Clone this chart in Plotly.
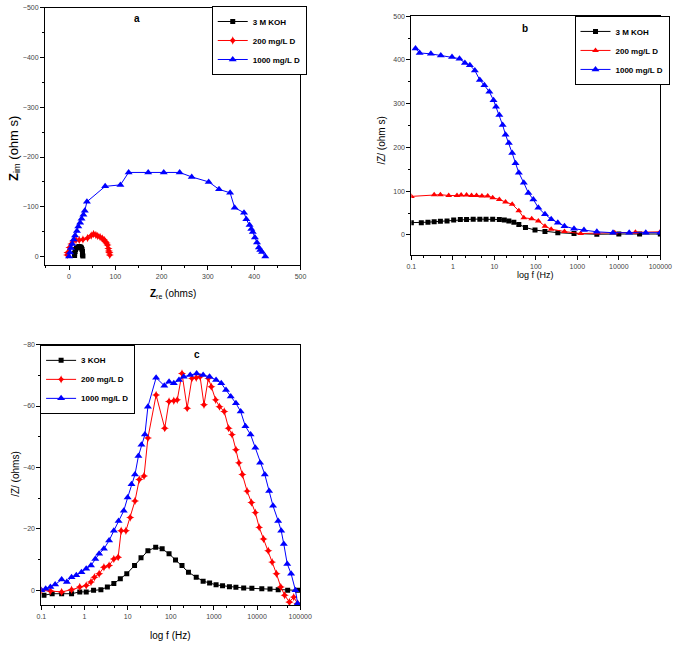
import numpy as np
import plotly.graph_objects as go

# ---------------- Panel a: Nyquist ----------------
a_koh_re = [12, 12, 13, 14, 16, 19, 22, 25, 27, 28, 29, 29, 29, 30]
a_koh_im = [-2, -6, -10, -14, -17, -19, -20, -19, -17, -14, -10, -6, -3, -1]
a_200_re = [-4, -3, 1, 5, 9, 15, 22, 30, 40, 48, 53, 58, 62, 67, 72, 76, 78, 81, 83, 85, 86, 87, 88]
a_200_im = [-3, -8, -18, -25, -31, -33, -33, -34, -37, -42, -45, -43, -41, -39, -36, -33, -30, -27, -23, -16, -11, -8, -3]
a_1000_re = [0, 2, 4, 7, 10, 13, 17, 20, 24, 27, 31, 34, 38.6, 78, 111, 128.7, 171, 204.6, 239, 265, 301.7, 324, 348, 357.8,
             378, 383, 390, 393.7, 397, 401.5, 406, 410, 413, 417, 424]
a_1000_im = [0, -8, -17, -25, -34, -42, -51, -60, -68, -76, -84, -92, -110, -141, -144, -169, -169, -169, -169, -160, -150,
             -135, -128, -98, -88, -75, -63, -55, -49, -38, -28, -18, -13, -9, 0]

# ---------------- Panel b: Bode |Z| ----------------
b_koh_logf = [-1, -0.76, -0.6, -0.45, -0.3, -0.14, 0.02, 0.18, 0.33, 0.49, 0.65, 0.8, 0.96, 1.12, 1.24, 1.35, 1.47, 1.59,
              1.75, 1.98, 2.22, 2.53, 2.92, 3.47, 4.0, 4.5, 5.0]
b_koh_z = [28, 28, 29, 30, 31, 32, 34, 35, 35, 36, 36, 36, 36, 35, 34, 32, 29, 24, 17, 11, 8, 5, 3, 1.5, 2, 2, 2]
b_200_logf = [-1, -0.45, -0.3, -0.1, 0.1, 0.2, 0.33, 0.45, 0.57, 0.7, 0.84, 0.96, 1.12, 1.27, 1.43, 1.59, 1.71, 1.9,
              2.06, 2.22, 2.37, 2.69, 3.08, 3.47, 3.9, 4.4, 5.0]
b_200_z = [88, 92, 92, 90, 90, 91, 91, 90, 90, 89, 89, 85, 81, 75, 70, 55, 39, 37, 32, 20, 13, 7.6, 3, 4, 5, 6, 7]
b_1000_logf = [-0.9, -0.8, -0.53, -0.29, -0.02, 0.16, 0.29, 0.41, 0.53, 0.65, 0.76, 0.88, 0.98, 1.04, 1.12, 1.2, 1.27,
               1.35, 1.43, 1.51, 1.59, 1.71, 1.82, 1.94, 2.06, 2.22, 2.37, 2.53, 2.69, 2.92, 3.16, 3.47, 3.86, 4.25,
               4.65, 5.0]
b_1000_z = [426, 416, 414, 410, 407, 403, 393, 388, 376, 354, 342, 327, 308, 293, 274, 251, 229, 210, 187, 164, 142, 119,
            96, 81, 62, 47, 36, 28, 20, 14, 11, 7, 5, 5, 5, 5]

# ---------------- Panel c ----------------
c_koh_logf = [-0.94, -0.75, -0.53, -0.3, -0.11, 0.04, 0.21, 0.38, 0.53, 0.68, 0.83, 0.98, 1.16, 1.31, 1.47, 1.65, 1.8,
              1.96, 2.11, 2.26, 2.41, 2.59, 2.75, 2.9, 3.05, 3.2, 3.36, 3.51, 3.69, 3.88, 4.11, 4.3, 4.49, 4.71, 4.94]
c_koh_z = [1.6, 1.1, 1.1, 1.1, 0.5, 0.5, 0, -0.2, -1.1, -2.2, -3.8, -5.4, -8.1, -10.6, -12.9, -14.0, -13.5, -11.9,
           -9.9, -8.1, -5.9, -4.3, -3.0, -2.4, -1.8, -1.5, -1.2, -1.0, -0.75, -0.65, -0.5, -0.4, -0.2, 0, 0]
c_200_logf = [-1, -0.79, -0.53, -0.3, -0.11, 0.04, 0.15, 0.23, 0.34, 0.45, 0.57, 0.68, 0.78, 0.85, 0.96, 1.06, 1.17,
              1.27, 1.38, 1.47, 1.66, 1.86, 1.96, 2.07, 2.15, 2.26, 2.38, 2.49, 2.59, 2.68, 2.77, 2.87, 2.94, 3.04,
              3.13, 3.24, 3.34, 3.42, 3.51, 3.58, 3.66, 3.77, 3.87, 3.96, 4.05, 4.15, 4.26, 4.35, 4.45, 4.55, 4.64,
              4.75, 4.85, 4.94]
c_200_z = [0, 0.2, 0.5, -0.2, -1.1, -1.6, -2.7, -4.3, -5.4, -7.5, -8.1, -10.2, -10.8, -19.4, -19.4, -23.7, -29.1, -36.1,
           -37.2, -49.6, -63.6, -52.8, -61.5, -61.7, -62.0, -70.6, -59.3, -69.0, -69.2, -69.5, -60.4, -69.0, -66.3,
           -62.0, -59.8, -58.2, -52.8, -50.7, -45.8, -41.5, -37.7, -32.3, -28.6, -25.3, -20.5, -16.7, -12.9, -9.2,
           -5.4, -1.1, 1.6, 3.8, 2.2, 4.3]
c_1000_logf = [-1, -0.9, -0.79, -0.68, -0.53, -0.41, -0.3, -0.19, -0.07, 0.04, 0.15, 0.25, 0.34, 0.45, 0.57, 0.68,
               0.79, 0.91, 1.0, 1.09, 1.17, 1.25, 1.32, 1.4, 1.47, 1.66, 1.85, 1.96, 2.07, 2.19, 2.3, 2.45, 2.6, 2.75,
               2.9, 3.05, 3.17, 3.28, 3.39, 3.51, 3.62, 3.73, 3.85, 3.96, 4.07, 4.18, 4.28, 4.37, 4.49, 4.56, 4.62,
               4.7, 4.79, 4.89, 4.94]
c_1000_z = [0, -0.5, -1.1, -1.9, -3.5, -2.7, -4.3, -4.9, -5.9, -7.0, -8.1, -10.2, -11.9, -13.5, -16.2, -19.4, -22.6,
            -25.9, -30.2, -34.5, -37.7, -43.7, -47.4, -50.7, -59.8, -69.2, -66.6, -67.9, -67.4, -68.5, -69.5, -70.1,
            -70.6, -70.1, -69.5, -68.5, -67.4, -65.2, -63.1, -60.9, -58.2, -53.4, -50.7, -46.4, -41.5, -37.7, -32.3,
            -27.5, -22.6, -19.4, -15.1, -8.6, -5.4, 0, 4.3]

names_ab = ["3 M KOH", "200 mg/L D", "1000 mg/L D"]
names_c = ["3 KOH", "200 mg/L D", "1000 mg/L D"]
log_ticks = ["0.1", "1", "10", "100", "1000", "10000", "100000"]

BLACK, RED, BLUE = "#000000", "#ff0000", "#0000ff"
W, H = 685, 645


def fx(p):
    return p / W


def fy(p):
    return 1 - p / H


fig = go.Figure()


def add(x, y, name, color, symbol, size, xa, ya, legend):
    fig.add_trace(go.Scatter(x=x, y=y, name=name, mode="lines+markers", xaxis=xa, yaxis=ya, legend=legend,
                             line=dict(color=color, width=1),
                             marker=dict(color=color, symbol=symbol, size=size, line=dict(width=0))))


tolog = lambda v: list(10 ** np.array(v, dtype=float))

add(a_koh_re, a_koh_im, names_ab[0], BLACK, "square", 5, "x", "y", "legend")
add(a_200_re, a_200_im, names_ab[1], RED, "star-diamond", 6, "x", "y", "legend")
add(a_1000_re, a_1000_im, names_ab[2], BLUE, "triangle-up", 7, "x", "y", "legend")

add(tolog(b_koh_logf), b_koh_z, names_ab[0], BLACK, "square", 5, "x2", "y2", "legend2")
add(tolog(b_200_logf), b_200_z, names_ab[1], RED, "triangle-up", 6, "x2", "y2", "legend2")
add(tolog(b_1000_logf), b_1000_z, names_ab[2], BLUE, "triangle-up", 7, "x2", "y2", "legend2")

add(tolog(c_koh_logf), c_koh_z, names_c[0], BLACK, "square", 5, "x3", "y3", "legend3")
add(tolog(c_200_logf), c_200_z, names_c[1], RED, "star-diamond", 6, "x3", "y3", "legend3")
add(tolog(c_1000_logf), c_1000_z, names_c[2], BLUE, "triangle-up", 7, "x3", "y3", "legend3")

tickfont = dict(family="Arial", size=7, color="#444")
common = dict(showline=True, linecolor="black", linewidth=1, mirror=True, ticks="outside", ticklen=4,
              tickcolor="black", showgrid=False, zeroline=False, tickfont=tickfont)

lin_minor = dict(ticks="outside", ticklen=2, tickcolor="black", showgrid=False)

fig.update_layout(
    width=W, height=H, margin=dict(l=0, r=0, t=0, b=0),
    paper_bgcolor="white", plot_bgcolor="white", showlegend=True,
    xaxis=dict(domain=[fx(41), fx(303)], anchor="y", range=[-52, 500], tickvals=[0, 100, 200, 300, 400, 500],
               minor=dict(dtick=50, **lin_minor), **common),
    yaxis=dict(domain=[fy(263), fy(4)], anchor="x", range=[18, -500], tickvals=[0, -100, -200, -300, -400, -500],
               minor=dict(dtick=50, **lin_minor), **common),
    xaxis2=dict(domain=[fx(416.7), fx(672)], anchor="y2", type="log", range=[-1, 5],
                tickvals=[0.1, 1, 10, 100, 1000, 10000, 100000], ticktext=log_ticks,
                minor=dict(**lin_minor), **common),
    yaxis2=dict(domain=[fy(253), fy(12.3)], anchor="x2", range=[-47, 500], tickvals=[0, 100, 200, 300, 400, 500],
                minor=dict(dtick=50, **lin_minor), **common),
    xaxis3=dict(domain=[fx(37.3), fx(302.7)], anchor="y3", type="log", range=[-1, 5],
                tickvals=[0.1, 1, 10, 100, 1000, 10000, 100000], ticktext=log_ticks,
                minor=dict(**lin_minor), **common),
    yaxis3=dict(domain=[fy(605), fy(342.7)], anchor="x3", range=[4.85, -80], tickvals=[0, -20, -40, -60, -80],
                minor=dict(dtick=10, **lin_minor), **common),
)

legfont = dict(family="Arial", size=8, color="black", weight="bold")
legcommon = dict(bgcolor="white", bordercolor="black", borderwidth=1, font=legfont, itemwidth=30,
                 xanchor="left", yanchor="top", tracegroupgap=0)
fig.update_layout(
    legend=dict(x=fx(212), y=fy(2), **legcommon),
    legend2=dict(x=fx(584), y=fy(12), **legcommon),
    legend3=dict(x=fx(36), y=fy(343), **legcommon),
)

ann = []


def text(x, y, t, size=9, bold=False, angle=0, family="Arial"):
    ann.append(dict(x=fx(x), y=fy(y), xref="paper", yref="paper", text=("<b>%s</b>" % t) if bold else t,
                    showarrow=False, textangle=angle, font=dict(family=family, size=size, color="black"),
                    xanchor="center", yanchor="middle"))


text(135, 15, "a", 10, True)
text(533, 25, "b", 10, True)
text(197, 353, "c", 10, True)
text(172, 292, "<b>Z</b><sub>re</sub> (ohms)", 10)
text(9, 145, "<b>Z</b><sub>im</sub> (ohm s)", 13, angle=-90)
text(544, 273, "log f (Hz)", 9)
text(386, 137, "/Z/ (ohm s)", 10, angle=-90)
text(170, 635, "log f (Hz)", 10)
text(10, 473, "/Z/ (ohms)", 10, angle=-90)
fig.update_layout(annotations=ann)

fig.write_html("out.html", config={"displayModeBar": False},
               post_script="document.body.style.margin='0px';document.body.style.overflow='hidden';")
